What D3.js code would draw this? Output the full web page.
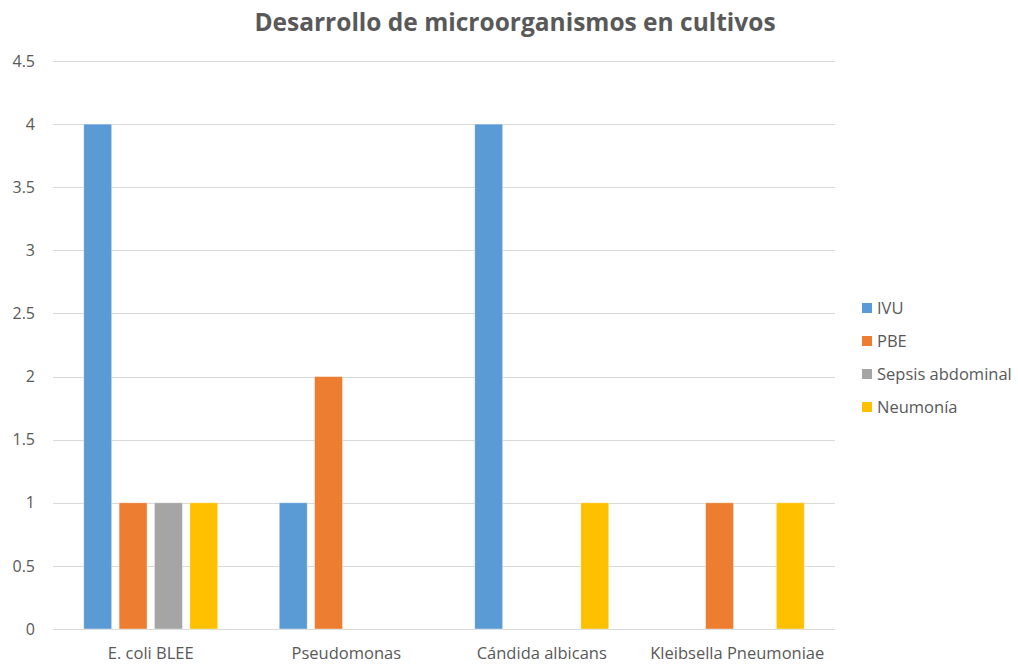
<!DOCTYPE html>
<html>
<head>
<meta charset="utf-8">
<script src="https://cdn.jsdelivr.net/npm/d3@7"></script>
<style>
  html, body { margin: 0; padding: 0; background: #fff; }
  svg { display: block; }
  text { font-family: "Open Sans", Lato, "Liberation Sans", sans-serif; fill: #595959; }
</style>
</head>
<body>
<svg id="chart" width="1018" height="667"></svg>
<script>
// Cultivos por microorganismo y tipo de infección
const categories = ["E. coli BLEE", "Pseudomonas", "Cándida albicans", "Kleibsella Pneumoniae"];
const seriesNames = ["IVU", "PBE", "Sepsis abdominal", "Neumonía"];
const seriesColors = ["#5B9BD5", "#ED7D31", "#A5A5A5", "#FFC000"];
const ivu = [4, 1, 4, 0];
const pbe = [1, 2, 0, 1];
const sepsisAbdominal = [1, 0, 0, 0];
const neumonia = [1, 0, 1, 1];
const yTicks = [0, 0.5, 1, 1.5, 2, 2.5, 3, 3.5, 4, 4.5];
const titleText = "Desarrollo de microorganismos en cultivos";

const seriesValues = [ivu, pbe, sepsisAbdominal, neumonia];

const svg = d3.select("#chart");
const plot = { left: 53, right: 835, top: 61, bottom: 629 };

const x0 = d3.scaleBand()
  .domain(categories)
  .range([plot.left, plot.right])
  .padding(0);

const groupPad = 30.75;
const x1 = d3.scaleBand()
  .domain(seriesNames)
  .range([groupPad, x0.bandwidth() - groupPad])
  .paddingInner(0.21)
  .paddingOuter(0);

const y = d3.scaleLinear()
  .domain([0, 4.5])
  .range([plot.bottom, plot.top]);

// Gridlines
svg.append("g")
  .selectAll("line")
  .data(yTicks)
  .join("line")
  .attr("x1", plot.left)
  .attr("x2", plot.right)
  .attr("y1", d => Math.round(y(d)) + 0.5)
  .attr("y2", d => Math.round(y(d)) + 0.5)
  .attr("stroke", "#D9D9D9")
  .attr("stroke-width", 1);

// Y axis labels
const yAxis = d3.axisLeft(y)
  .tickValues(yTicks)
  .tickSize(0)
  .tickPadding(0)
  .tickFormat(d3.format("~g"));
const yG = svg.append("g")
  .attr("transform", `translate(${plot.left - 18},0)`)
  .call(yAxis);
yG.select(".domain").remove();
yG.selectAll("text")
  .style("font-size", "16px")
  .attr("fill", "#595959");

// Bars
const groups = svg.append("g")
  .selectAll("g")
  .data(categories)
  .join("g")
  .attr("transform", d => `translate(${x0(d)},0)`);

groups.selectAll("rect")
  .data((c, ci) => seriesNames.map((s, si) => ({ s, si, v: seriesValues[si][ci] })))
  .join("rect")
  .filter(d => d.v > 0)
  .attr("x", d => x1(d.s))
  .attr("width", x1.bandwidth())
  .attr("y", d => y(d.v))
  .attr("height", d => y(0) - y(d.v))
  .attr("fill", d => seriesColors[d.si])
  .attr("stroke", "#fff")
  .attr("stroke-opacity", 0.5)
  .attr("stroke-width", 0.75);

// X axis labels
const xAxis = d3.axisBottom(x0).tickSize(0).tickPadding(0);
const xG = svg.append("g")
  .attr("transform", `translate(0,${plot.bottom + 18})`)
  .call(xAxis);
xG.select(".domain").remove();
xG.selectAll("text")
  .style("font-size", "16.5px")
  .attr("fill", "#595959");

// Title
svg.append("text")
  .attr("x", 515)
  .attr("y", 31)
  .attr("text-anchor", "middle")
  .style("font-size", "24.5px")
  .style("font-weight", "bold")
  .attr("fill", "#595959")
  .text(titleText);

// Legend
const legend = svg.append("g")
  .attr("transform", "translate(862,308)")
  .selectAll("g")
  .data(seriesNames)
  .join("g")
  .attr("transform", (d, i) => `translate(0,${i * 33})`);

legend.append("rect")
  .attr("x", 0)
  .attr("y", -5)
  .attr("width", 10)
  .attr("height", 10)
  .attr("fill", (d, i) => seriesColors[i]);

legend.append("text")
  .attr("x", 15)
  .attr("y", 0)
  .attr("dy", "0.35em")
  .style("font-size", "16.5px")
  .attr("fill", "#595959")
  .text(d => d);
</script>
</body>
</html>
